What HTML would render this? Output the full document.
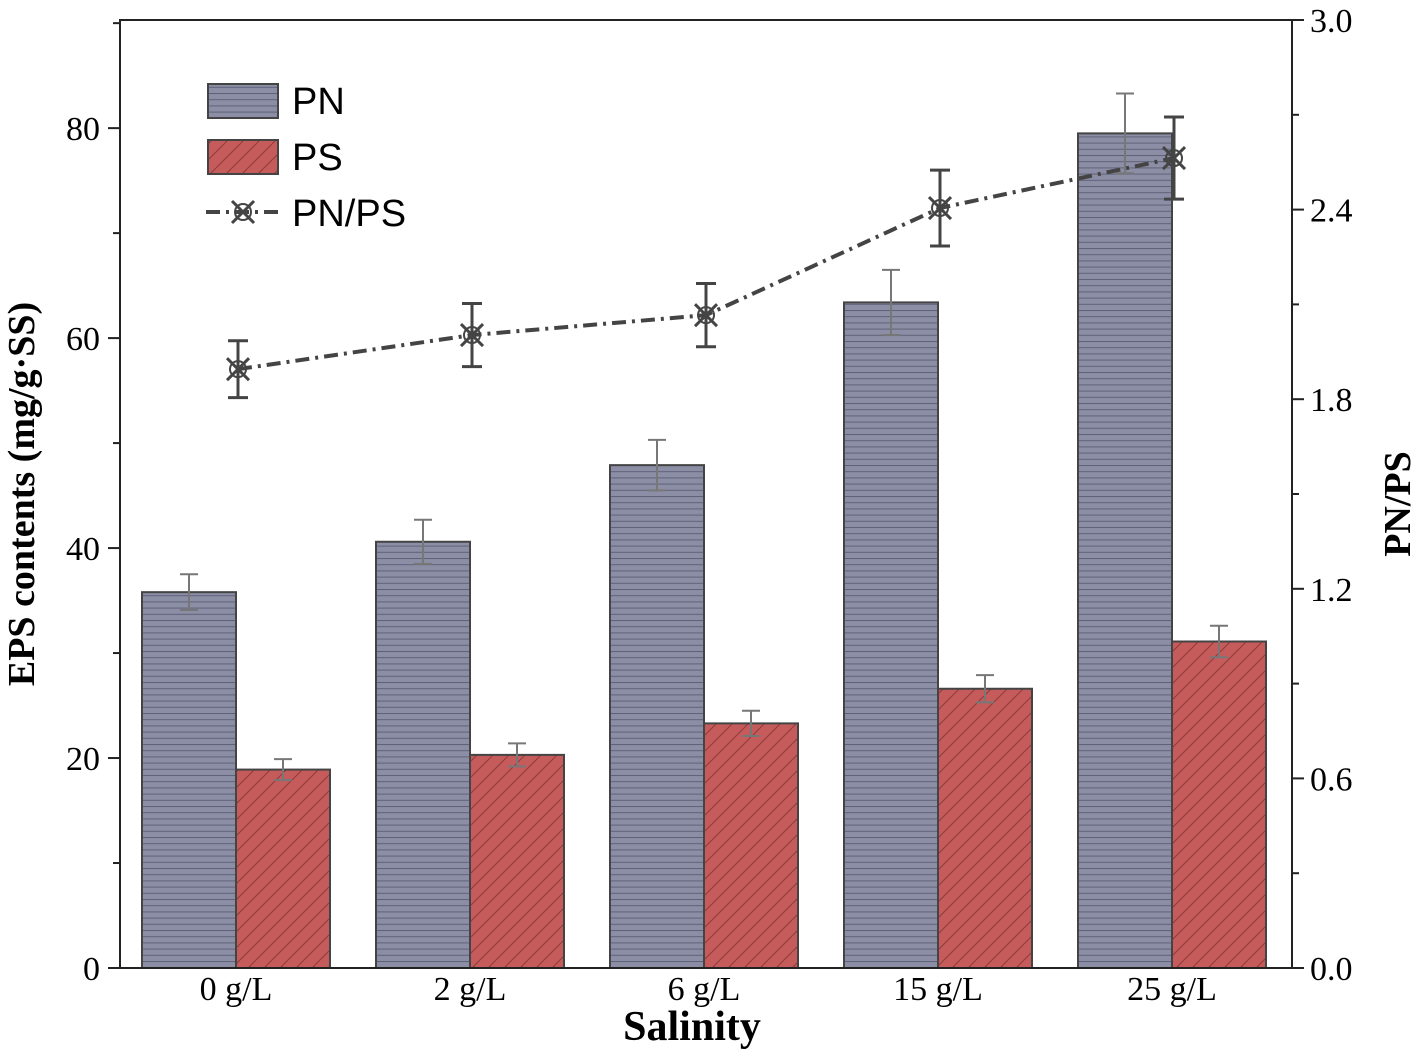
<!DOCTYPE html>
<html><head><meta charset="utf-8"><style>
html,body{margin:0;padding:0;background:#fff;}
svg{display:block;font-family:"Liberation Serif",serif;}
</style></head><body>
<svg id="chart" width="1417" height="1056">
<defs>
<pattern id="hpat" width="10" height="6.2" patternUnits="userSpaceOnUse"><rect width="10" height="6.2" fill="#8c8ea6"/><line x1="0" y1="0.5" x2="10" y2="0.5" stroke="#5f6178" stroke-width="1"/></pattern>
<pattern id="dpat" width="16" height="16" patternUnits="userSpaceOnUse"><rect width="16" height="16" fill="#c65b5b"/><path d="M0,16 L16,0 M-4,4 L4,-4 M12,20 L20,12" stroke="#8e3b3b" stroke-width="1"/></pattern>
</defs>
<g id="plot"></g>
</svg>
<script>
const categories=["0 g/L","2 g/L","6 g/L","15 g/L","25 g/L"];
const pnValues=[35.8,40.6,47.9,63.4,79.5];
const pnErr=[1.7,2.1,2.4,3.1,3.8];
const psValues=[18.9,20.3,23.3,26.6,31.1];
const psErr=[1.0,1.1,1.2,1.3,1.5];
const ratioValues=[1.895,2.003,2.066,2.405,2.563];
const ratioErr=[0.09,0.1,0.1,0.12,0.13];
const leftTicks=[0,20,40,60,80];
const rightTicks=["0.0","0.6","1.2","1.8","2.4","3.0"];

const NS="http://www.w3.org/2000/svg";
const g=document.getElementById('plot');
const L=120,R=1292,T=20,B=968;
const yL=v=>B-v*(B-T)/90.3;
const yR=v=>B-v*(B-T)/3.0;
const xC=i=>236+i*234;
const bw=94;
function mk(tag,attrs,parent){const e=document.createElementNS(NS,tag);for(const k in attrs)e.setAttribute(k,attrs[k]);(parent||g).appendChild(e);return e;}
function txt(s,attrs){const e=mk('text',attrs);e.textContent=s;return e;}

categories.forEach((c,i)=>{
  const x=xC(i);
  let r=mk('rect',{x:x-bw,y:yL(pnValues[i]),width:bw,height:B-yL(pnValues[i]),fill:'url(#hpat)',stroke:'#444',"stroke-width":2});
  
  
  let s=mk('rect',{x:x,y:yL(psValues[i]),width:bw,height:B-yL(psValues[i]),fill:'url(#dpat)',stroke:'#444',"stroke-width":2});
  
  
  [[x-bw/2,pnValues[i],pnErr[i]],[x+bw/2,psValues[i],psErr[i]]].forEach(([cx,v,e],k)=>{
    const eb=mk('path',{d:`M${cx},${yL(v+e)}V${yL(v-e)}M${cx-9},${yL(v+e)}H${cx+9}M${cx-9},${yL(v-e)}H${cx+9}`,stroke:'#777',"stroke-width":2,fill:'none'});
    
    
  });
  const t=txt(c,{x:x,y:1000,"text-anchor":"middle","font-size":34});
  
  
});
const line=mk('polyline',{points:ratioValues.map((v,i)=>(xC(i)+2)+','+yR(v)).join(' '),fill:'none',stroke:'#444',"stroke-width":4,"stroke-dasharray":"14,6,3,6"});


ratioValues.forEach((v,i)=>{
  const x=xC(i)+2,y=yR(v),e=ratioErr[i];
  const eb=mk('path',{d:`M${x},${yR(v+e)}V${yR(v-e)}M${x-10},${yR(v+e)}H${x+10}M${x-10},${yR(v-e)}H${x+10}`,stroke:'#444',"stroke-width":3,fill:'none'});
  
  
  const m=mk('path',{d:`M${x-11},${y-11}L${x+11},${y+11}M${x-11},${y+11}L${x+11},${y-11}`,stroke:'#444',"stroke-width":3,fill:'none'});
  
  
  const cc=mk('circle',{cx:x,cy:y,r:8,fill:'none',stroke:'#444',"stroke-width":2});
  
  
});
const fr=mk('rect',{x:L,y:T,width:R-L,height:B-T,fill:'none',stroke:'#222',"stroke-width":2});


for(let v=0;v<=90;v+=10){
  const maj=v%20===0;
  const tk=mk('line',{x1:L-(maj?12:7),x2:L,y1:yL(v),y2:yL(v),stroke:'#222',"stroke-width":2});
  
  
}
leftTicks.forEach(v=>{
  const t=txt(String(v),{x:100,y:yL(v)+12,"text-anchor":"end","font-size":34});
  
  
});
for(let k=0;k<=10;k++){
  const v=k*0.3,maj=k%2===0;
  const tk=mk('line',{x1:R,x2:R+(maj?12:7),y1:yR(v),y2:yR(v),stroke:'#222',"stroke-width":2});
  
  
}
rightTicks.forEach(s=>{
  const t=txt(s,{x:1310,y:yR(parseFloat(s))+12,"font-size":34});
  
  
});
let t=txt('Salinity',{x:692,y:1040,"text-anchor":"middle","font-size":42,"font-weight":"bold"});

t=txt('EPS contents (mg/g·SS)',{x:0,y:0,"text-anchor":"middle","font-size":38,"font-weight":"bold",transform:"translate(34,494) rotate(-90)"});

t=txt('PN/PS',{x:0,y:0,"text-anchor":"middle","font-size":38,"font-weight":"bold",transform:"translate(1410,504) rotate(-90)"});

let lr=mk('rect',{x:208,y:84,width:70,height:34,fill:'url(#hpat)',stroke:'#444',"stroke-width":2});

t=txt('PN',{x:292,y:114,"font-size":38,"font-family":"Liberation Sans, sans-serif"});

lr=mk('rect',{x:208,y:140,width:70,height:34,fill:'url(#dpat)',stroke:'#444',"stroke-width":2});

t=txt('PS',{x:292,y:170,"font-size":38,"font-family":"Liberation Sans, sans-serif"});

lr=mk('path',{d:'M206,212H280',stroke:'#444',"stroke-width":4,"stroke-dasharray":"14,6,3,6",fill:'none'});

lr=mk('path',{d:'M232,201L254,223M232,223L254,201',stroke:'#444',"stroke-width":3,fill:'none'});

lr=mk('circle',{cx:243,cy:212,r:8,fill:'none',stroke:'#444',"stroke-width":2});

t=txt('PN/PS',{x:292,y:226,"font-size":38,"font-family":"Liberation Sans, sans-serif"});

</script>
</body></html>
